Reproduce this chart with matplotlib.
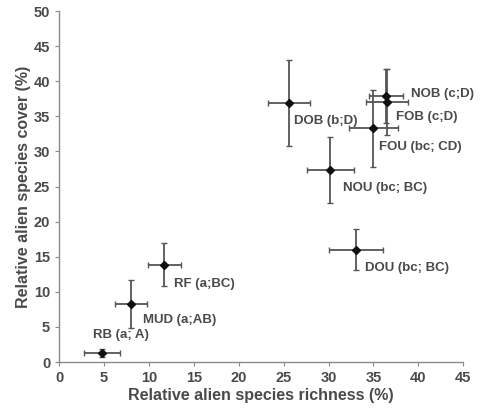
import matplotlib.pyplot as plt

plt.rcParams['font.family'] = ['Liberation Sans', 'DejaVu Sans']

sites = ["RB (a; A)", "MUD (a;AB)", "RF (a;BC)", "DOB (b;D)", "NOU (bc; BC)",
         "FOU (bc; CD)", "NOB (c;D)", "FOB (c;D)", "DOU (bc; BC)"]
richness = [4.8, 8.0, 11.7, 25.6, 30.2, 35.0, 36.4, 36.5, 33.1]
richness_err = [2.0, 1.8, 1.85, 2.3, 2.6, 2.7, 1.85, 2.35, 3.0]
cover = [1.3, 8.3, 13.9, 36.9, 27.3, 33.3, 37.9, 37.0, 16.0]
cover_err = [0.6, 3.4, 3.05, 6.1, 4.7, 5.5, 3.9, 4.7, 2.95]

# where each label sits (data coords, left edge)
label_x = [3.8, 9.3, 12.8, 26.2, 31.6, 35.6, 39.2, 37.5, 34.1]
label_y = [3.85, 6.0, 11.1, 34.3, 24.8, 30.6, 38.2, 34.9, 13.4]

grey = "#8a8a8a"
txt = "#4a4a4a"

fig = plt.figure(figsize=(4.81, 4.11), dpi=100)
ax = fig.add_axes([0.123, 0.119, 0.840, 0.854])

ax.errorbar(richness, cover, xerr=richness_err, yerr=cover_err, fmt="D",
            color="#111111", ms=4.5, ecolor="#555555", elinewidth=1.3,
            capsize=2.5, capthick=1.0, zorder=3)

for s, lx, ly in zip(sites, label_x, label_y):
    ax.text(lx, ly, s, ha="left", va="center", fontsize=9.5,
            fontweight="bold", color=txt)

ax.set_xlim(0, 45)
ax.set_ylim(0, 50)
ax.set_xticks(range(0, 46, 5))
ax.set_yticks(range(0, 51, 5))

for side in ["top", "right"]:
    ax.spines[side].set_visible(False)
for side in ["left", "bottom"]:
    ax.spines[side].set_color(grey)
    ax.spines[side].set_linewidth(1.0)

ax.tick_params(direction="out", length=3, color=grey, labelsize=10.5,
               labelcolor=txt)
for lab in ax.get_xticklabels() + ax.get_yticklabels():
    lab.set_fontweight("bold")

ax.set_xlabel("Relative alien species richness (%)", fontsize=11.5,
              fontweight="bold", color=txt, labelpad=2)
ax.set_ylabel("Relative alien species cover (%)", fontsize=11.5,
              fontweight="bold", color=txt, labelpad=2)

fig.savefig("out.png", dpi=100)
